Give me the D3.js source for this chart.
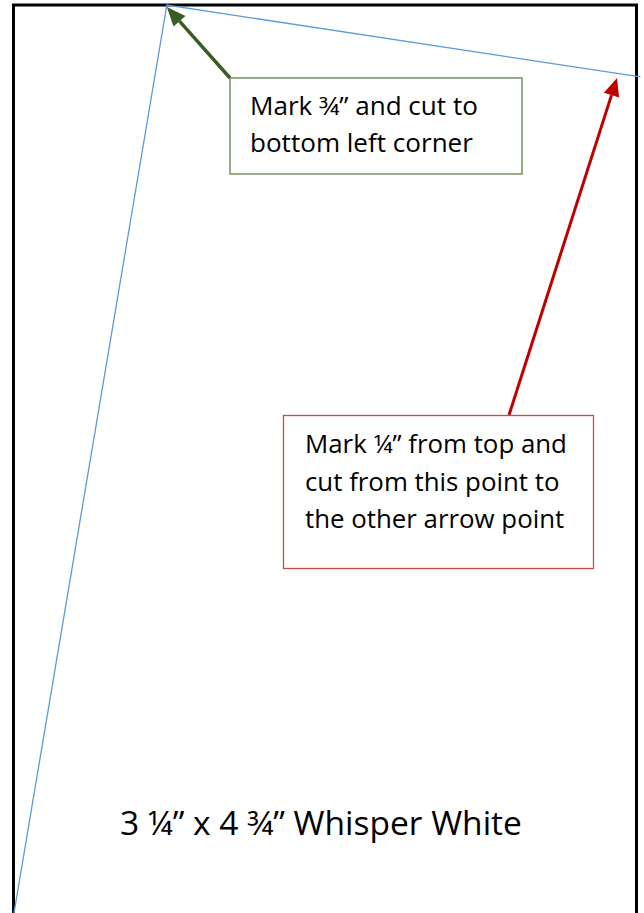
<!DOCTYPE html>
<html><head><meta charset="utf-8">
<script src="https://cdn.jsdelivr.net/npm/d3@7/dist/d3.min.js"></script>
<style>body{margin:0;background:#fff}svg{display:block}</style>
</head><body>
<script>
// Card size in inches
const cardSize = [3.25, 4.75];
// Cut line points (inches from top-left of card)
const cutPoints = [[0, 4.75], [0.8, 0], [3.27, 0.375]];
// Annotation texts
const greenLines = ["Mark \u00BE\u201D and cut to", "bottom left corner"];
const redLines = ["Mark \u00BC\u201D from top and", "cut from this point to", "the other arrow point"];
const titleText = "3 \u00BC\u201D x 4 \u00BE\u201D Whisper White";

const W = 644, H = 913;
const FONT = "'Open Sans', 'Noto Sans', sans-serif";
const svg = d3.select("body").append("svg").attr("width", W).attr("height", H);
const x = d3.scaleLinear().domain([0, cardSize[0]]).range([13.5, 636.5]);
const y = d3.scaleLinear().domain([0, cardSize[1]]).range([5, 916]);

// size a font so that the first line spans the given width
function fitSize(str, target) {
  const t = svg.append("text").attr("font-family", FONT).attr("font-size", 20).text(str);
  const w = t.node().getComputedTextLength();
  t.remove();
  return 20 * target / w;
}

// card outline
svg.append("rect").attr("x", x(0)).attr("y", y(0))
  .attr("width", x(cardSize[0]) - x(0)).attr("height", y(cardSize[1]) - y(0) + 10)
  .attr("fill", "none").attr("stroke", "#000").attr("stroke-width", 3);

// cut line
svg.append("path").attr("d", d3.line().x(d => x(d[0])).y(d => y(d[1]))(cutPoints))
  .attr("fill", "none").attr("stroke", "#5b9bd5").attr("stroke-width", 1.3);

function arrow(x1, y1, x2, y2, color, w, hl, hw) {
  const a = Math.atan2(y2 - y1, x2 - x1);
  const bx = x2 - hl * Math.cos(a), by = y2 - hl * Math.sin(a);
  svg.append("line").attr("x1", x1).attr("y1", y1).attr("x2", bx).attr("y2", by)
    .attr("stroke", color).attr("stroke-width", w);
  const px = -Math.sin(a) * hw / 2, py = Math.cos(a) * hw / 2;
  svg.append("path").attr("d", `M${x2},${y2}L${bx + px},${by + py}L${bx - px},${by - py}Z`)
    .attr("fill", color);
}

function box(bx, by, bw, bh, stroke, lines, tx, ty0, lh, fs) {
  svg.append("rect").attr("x", bx).attr("y", by).attr("width", bw).attr("height", bh)
    .attr("fill", "#fff").attr("stroke", stroke).attr("stroke-width", 1.3);
  const t = svg.append("g");
  lines.forEach((l, i) => {
    t.append("text").attr("x", tx).attr("y", ty0 + i * lh).text(l)
      .attr("font-family", FONT).attr("font-size", fs).attr("fill", "#000");
  });
}

// green annotation
arrow(230, 78, x(cutPoints[1][0]), y(cutPoints[1][1]) + 2, "#3b5b24", 3.4, 19, 16);
box(230, 78, 292, 96, "#5f7f45", greenLines, 250, 115, 37, fitSize(greenLines[0], 228));

// red annotation
arrow(509, 415, 617, 78, "#c00000", 3, 18, 16);
box(283.5, 415.5, 310, 153, "#d0474a", redLines, 305, 453, 37.5, fitSize(redLines[0], 262));

// title
svg.append("text").attr("x", 120).attr("y", 835).text(titleText)
  .attr("font-family", FONT).attr("font-size", fitSize(titleText, 402)).attr("fill", "#000");
</script>
</body></html>
